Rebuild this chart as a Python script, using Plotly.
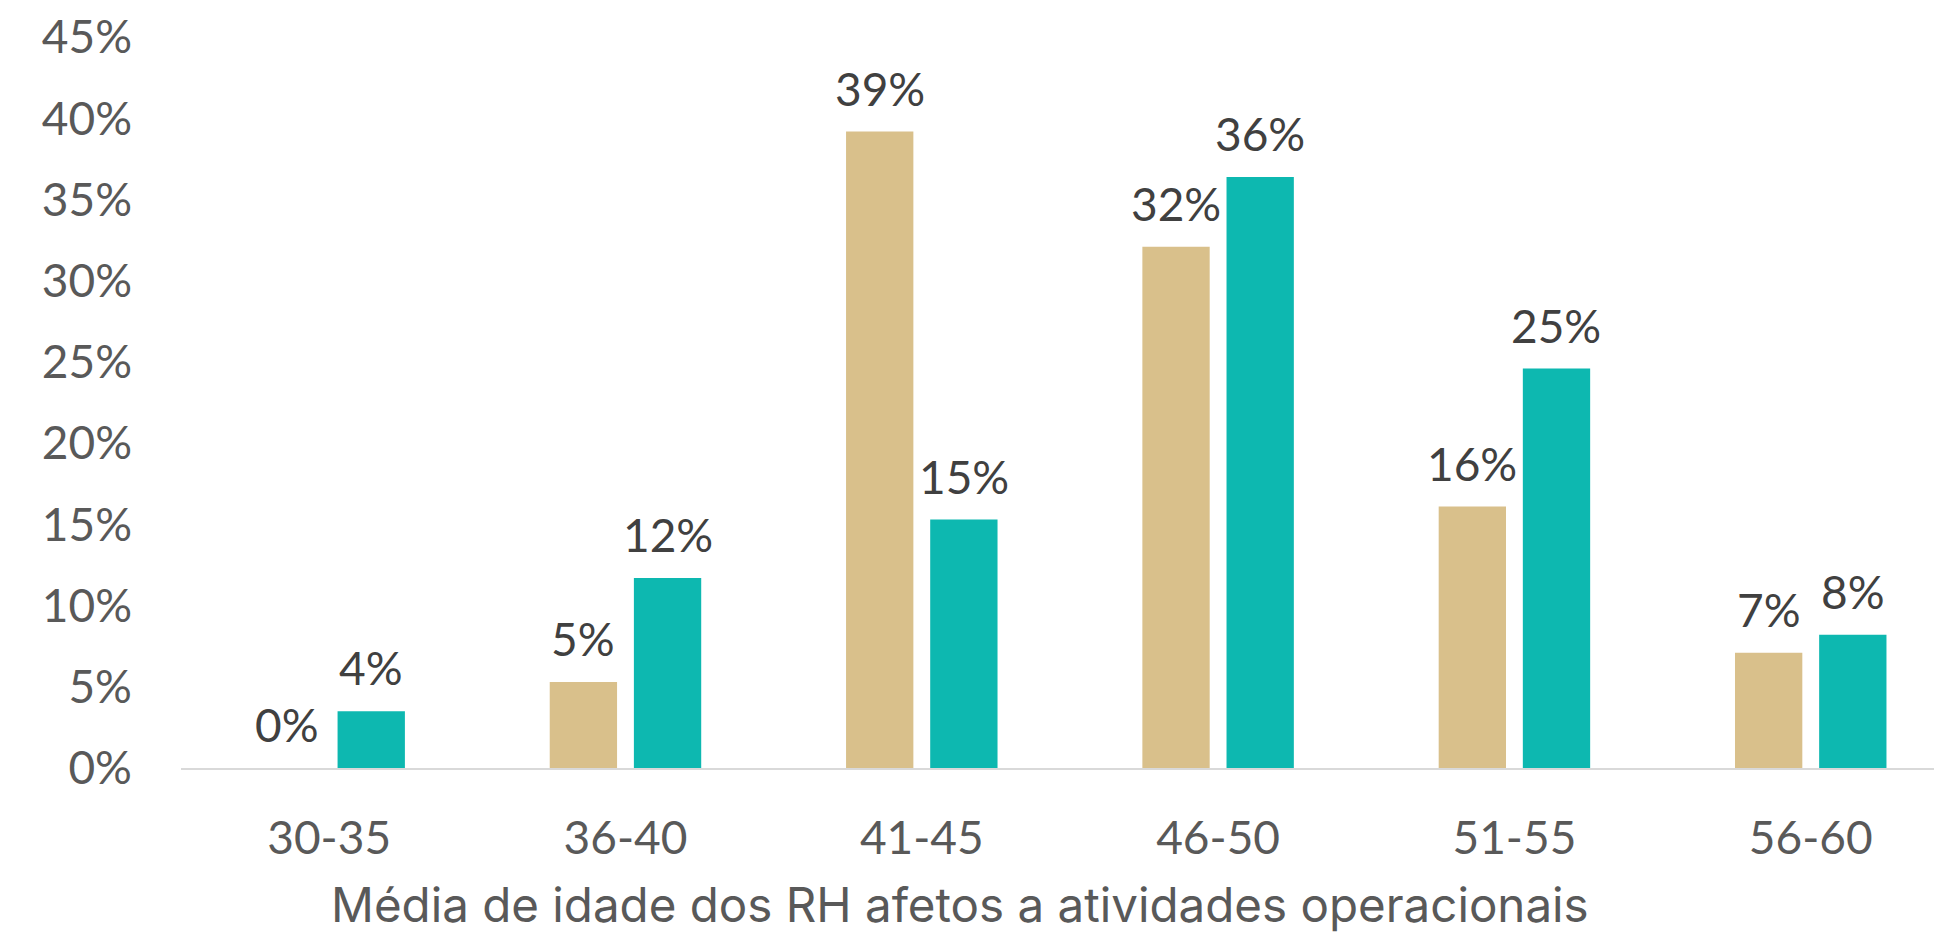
import plotly.graph_objects as go

categories = ["30-35", "36-40", "41-45", "46-50", "51-55", "56-60"]
serie_a = [0.0, 0.053, 0.392, 0.321, 0.161, 0.071]
serie_b = [0.035, 0.117, 0.153, 0.364, 0.246, 0.082]
labels_a = ["0%", "5%", "39%", "32%", "16%", "7%"]
labels_b = ["4%", "12%", "15%", "36%", "25%", "8%"]
tick_vals = [0, 0.05, 0.10, 0.15, 0.20, 0.25, 0.30, 0.35, 0.40, 0.45]
tick_text = ["0%", "5%", "10%", "15%", "20%", "25%", "30%", "35%", "40%", "45%"]
x_title = "Média de idade dos RH afetos a atividades operacionais"

TAN = "#D9C08B"
TEAL = "#0DB8B0"
BARGAP = 0.432
GROUPGAP = 0.20
LABEL_FONT = dict(family="Lato", size=46, color="#404040")

fig = go.Figure()
fig.add_trace(go.Bar(x=categories, y=serie_a, marker_color=TAN,
                     name="A", marker_line_width=0))
fig.add_trace(go.Bar(x=categories, y=serie_b, marker_color=TEAL,
                     name="B", marker_line_width=0))

# value labels above each bar, positioned through the axes
slot = (1 - BARGAP) / 2
annotations = []
for series, labels, sign in ((serie_a, labels_a, -1), (serie_b, labels_b, 1)):
    for i, (v, lab) in enumerate(zip(series, labels)):
        annotations.append(dict(x=i + sign * slot / 2, y=v, xref="x", yref="y",
                                text=lab, showarrow=False, xanchor="center",
                                yanchor="bottom", yshift=14, font=LABEL_FONT))

annotations.append(dict(text=x_title, xref="paper", yref="paper",
                        x=(960 - 181) / (1942 - 181), y=0, yshift=-106,
                        xanchor="center", yanchor="top", showarrow=False,
                        font=dict(family="Inter", size=47.5, color="#595959")))

fig.update_layout(
    width=1934, height=927,
    margin=dict(l=173, r=0, t=27, b=167),
    paper_bgcolor="white", plot_bgcolor="white",
    barmode="group", bargap=BARGAP, bargroupgap=GROUPGAP,
    showlegend=False,
    xaxis=dict(range=[-0.5, 5.443], showgrid=False, showline=True,
               linecolor="#D9D9D9", linewidth=2,
               ticks="", tickfont=dict(family="Lato", size=46, color="#595959"),
               ticklabelstandoff=29),
    yaxis=dict(range=[0, 0.4502], tickvals=tick_vals, ticktext=tick_text,
               showgrid=False, zeroline=False, showline=False, ticks="",
               tickfont=dict(family="Lato", size=46, color="#595959"),
               ticklabelstandoff=48, ticklabeloverflow="allow"),
    annotations=annotations,
)

fig.write_html("out.html")
